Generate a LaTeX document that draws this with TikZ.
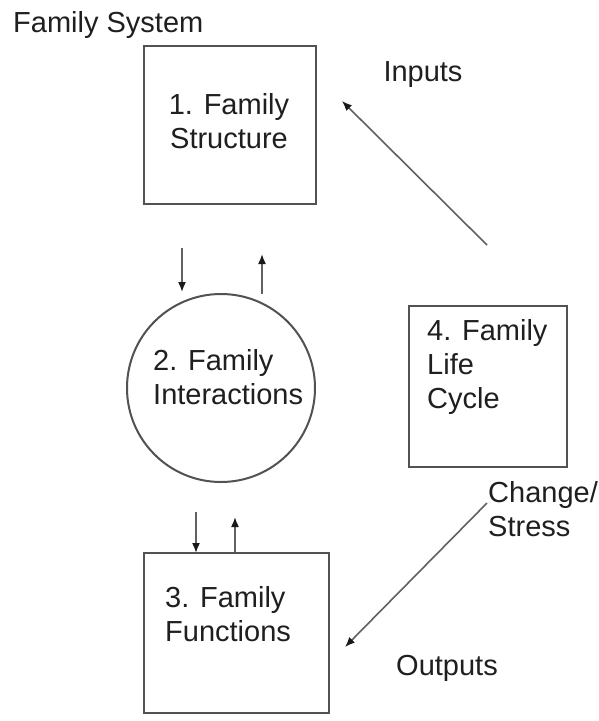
\documentclass[tikz,border=0pt]{standalone}
\usepackage{fontspec}
\setmainfont{Liberation Sans}
\usetikzlibrary{arrows.meta}
\begin{document}
\begin{tikzpicture}[x=1pt,y=-1pt,
  box/.style={draw=black!68, line width=2pt, inner sep=0pt},
  lbl/.style={font=\fontsize{29}{34}\selectfont, text=black!88, inner sep=0pt},
  conn/.style={draw=black!62, line width=1.6pt, -{Latex[length=10pt,width=8pt,color=black!90]}}]
\useasboundingbox[fill=white] (0,0) rectangle (599,721);
% shapes
\node[box, minimum width=172, minimum height=158, anchor=north west] (b1) at (143,45) {};
\node[box, circle, minimum size=188] (c2) at (221,388) {};
\node[box, minimum width=185, minimum height=160, anchor=north west] (b3) at (143,552) {};
\node[box, minimum width=158, minimum height=161, anchor=north west] (b4) at (408,305) {};
% labels
\node[lbl, anchor=west] (title) at (13,25) {Family System};
\node[lbl, align=center] (t1) at (229,121) {1. Family\\Structure};
\node[lbl, align=left, anchor=west] (t2) at (153,377) {2. Family\\Interactions};
\node[lbl, align=left, anchor=west] (t3) at (165,614) {3. Family\\Functions};
\node[lbl, align=left, anchor=west] (t4) at (427,367) {4. Family\\Life\\Cycle};
\node[lbl, align=left, anchor=west] (tcs) at (488,509) {Change/\\Stress};
\node[lbl] (tin) at (423,75) {Inputs};
\node[lbl] (tout) at (447,668) {Outputs};
% connector end points
\coordinate (a1s) at (182,248); \coordinate (a1e) at (182,292);
\coordinate (a2s) at (262,294); \coordinate (a2e) at (262,254);
\coordinate (a3s) at (196,512); \coordinate (a3e) at (196,553);
\coordinate (a4s) at (235,552); \coordinate (a4e) at (235,517);
\coordinate (ins) at (487,245); \coordinate (ine) at (342,101);
\coordinate (css) at (487,503); \coordinate (cse) at (345,647);
% connectors
\draw[conn] (a1s) -- (a1e);
\draw[conn] (a2s) -- (a2e);
\draw[conn] (a3s) -- (a3e);
\draw[conn] (a4s) -- (a4e);
\draw[conn] (ins) -- (ine);
\draw[conn] (css) -- (cse);
\end{tikzpicture}
\end{document}
